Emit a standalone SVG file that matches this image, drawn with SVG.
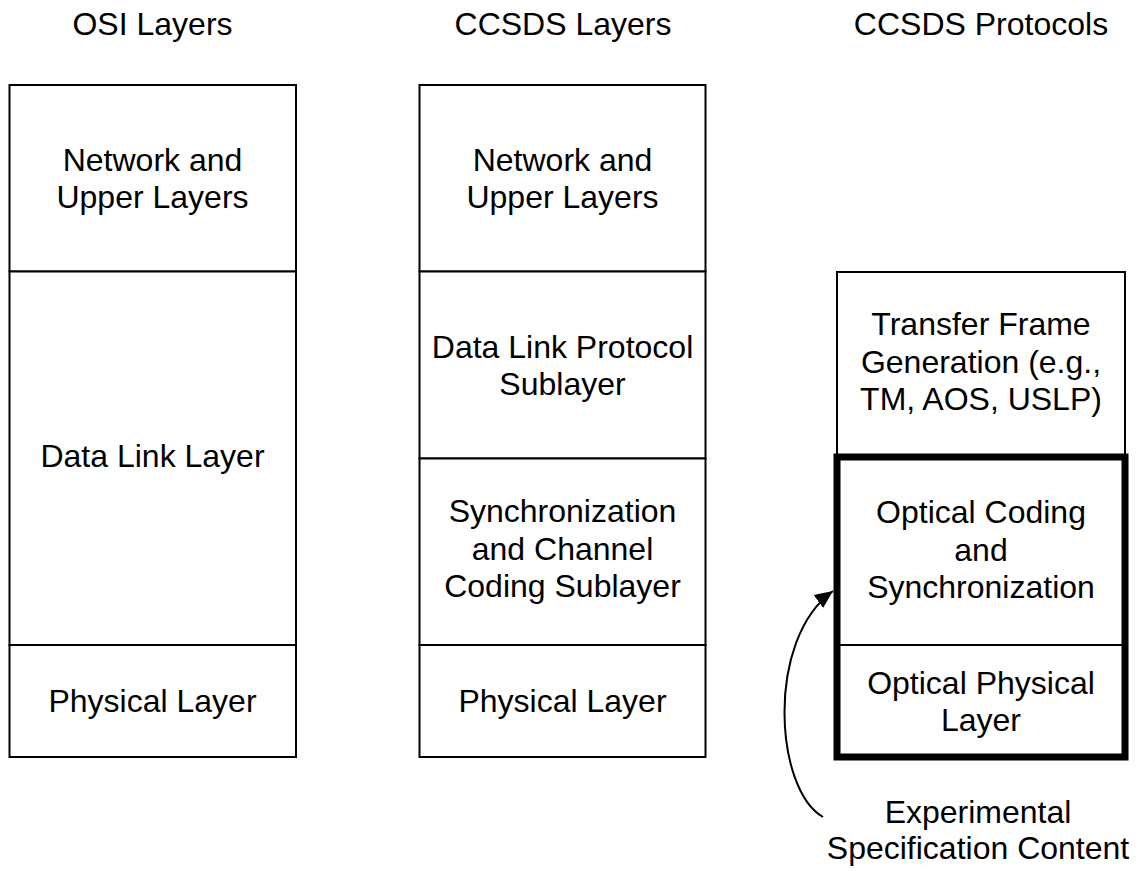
<svg xmlns="http://www.w3.org/2000/svg" width="1148" height="871" viewBox="0 0 1148 871">
  <style>
    text { font-family: "Liberation Sans", Arial, sans-serif; font-size: 32px; fill: #000; text-anchor: middle; }
    .cell { fill: #fff; stroke: #000; stroke-width: 2; }
    .thick { fill: none; stroke: #000; stroke-width: 7; }
    .conn { fill: none; stroke: #000; stroke-width: 2; }
  </style>
  <defs>
    <marker id="arrow" markerUnits="userSpaceOnUse" markerWidth="20" markerHeight="20" viewBox="0 0 20 20" refX="18" refY="10" orient="auto">
      <path d="M0,2 L18,10 L0,18 Z" fill="#000"/>
    </marker>
  </defs>
  <rect width="1148" height="871" fill="#fff"/>

  <g id="titles">
    <text x="152.5" y="35">OSI Layers</text>
    <text x="563" y="35">CCSDS Layers</text>
    <text x="981" y="35">CCSDS Protocols</text>
  </g>

  <g id="osi-network">
    <rect class="cell" x="9.5" y="85" width="286.5" height="186.5"/>
    <text x="152.5" y="170.5">Network and</text>
    <text x="152.5" y="207.5">Upper Layers</text>
  </g>
  <g id="osi-datalink">
    <rect class="cell" x="9.5" y="271.5" width="286.5" height="373.5"/>
    <text x="152.5" y="467">Data Link Layer</text>
  </g>
  <g id="osi-physical">
    <rect class="cell" x="9.5" y="645" width="286.5" height="112"/>
    <text x="152.5" y="712">Physical Layer</text>
  </g>

  <g id="ccsds-network">
    <rect class="cell" x="419.5" y="85" width="286" height="186.5"/>
    <text x="562.5" y="170.5">Network and</text>
    <text x="562.5" y="207.5">Upper Layers</text>
  </g>
  <g id="ccsds-dlp">
    <rect class="cell" x="419.5" y="271.5" width="286" height="187"/>
    <text x="562.5" y="358">Data Link Protocol</text>
    <text x="562.5" y="395">Sublayer</text>
  </g>
  <g id="ccsds-sync">
    <rect class="cell" x="419.5" y="458.5" width="286" height="186.5"/>
    <text x="562.5" y="522">Synchronization</text>
    <text x="562.5" y="559.5">and Channel</text>
    <text x="562.5" y="597">Coding Sublayer</text>
  </g>
  <g id="ccsds-physical">
    <rect class="cell" x="419.5" y="645" width="286" height="112"/>
    <text x="562.5" y="712">Physical Layer</text>
  </g>

  <g id="proto-tf">
    <rect class="cell" x="837" y="272" width="288" height="185"/>
    <text x="981" y="335">Transfer Frame</text>
    <text x="981" y="372.5">Generation (e.g.,</text>
    <text x="981" y="410">TM, AOS, USLP)</text>
  </g>
  <g id="proto-ocs">
    <rect class="cell" x="837" y="457" width="288" height="188"/>
    <text x="981" y="523">Optical Coding</text>
    <text x="981" y="560.5">and</text>
    <text x="981" y="598">Synchronization</text>
  </g>
  <g id="proto-oph">
    <rect class="cell" x="837" y="645" width="288" height="112"/>
    <text x="981" y="693.5">Optical Physical</text>
    <text x="981" y="730.5">Layer</text>
  </g>
  <g id="experimental-box">
    <rect class="thick" x="837" y="457" width="288" height="300"/>
  </g>

  <g id="experimental-label">
    <text x="978" y="823">Experimental</text>
    <text x="978" y="859">Specification Content</text>
  </g>

  <g id="connectors">
    <path class="conn" d="M823,817 C775,790 765,640 833,591" marker-end="url(#arrow)"/>
  </g>
</svg>
